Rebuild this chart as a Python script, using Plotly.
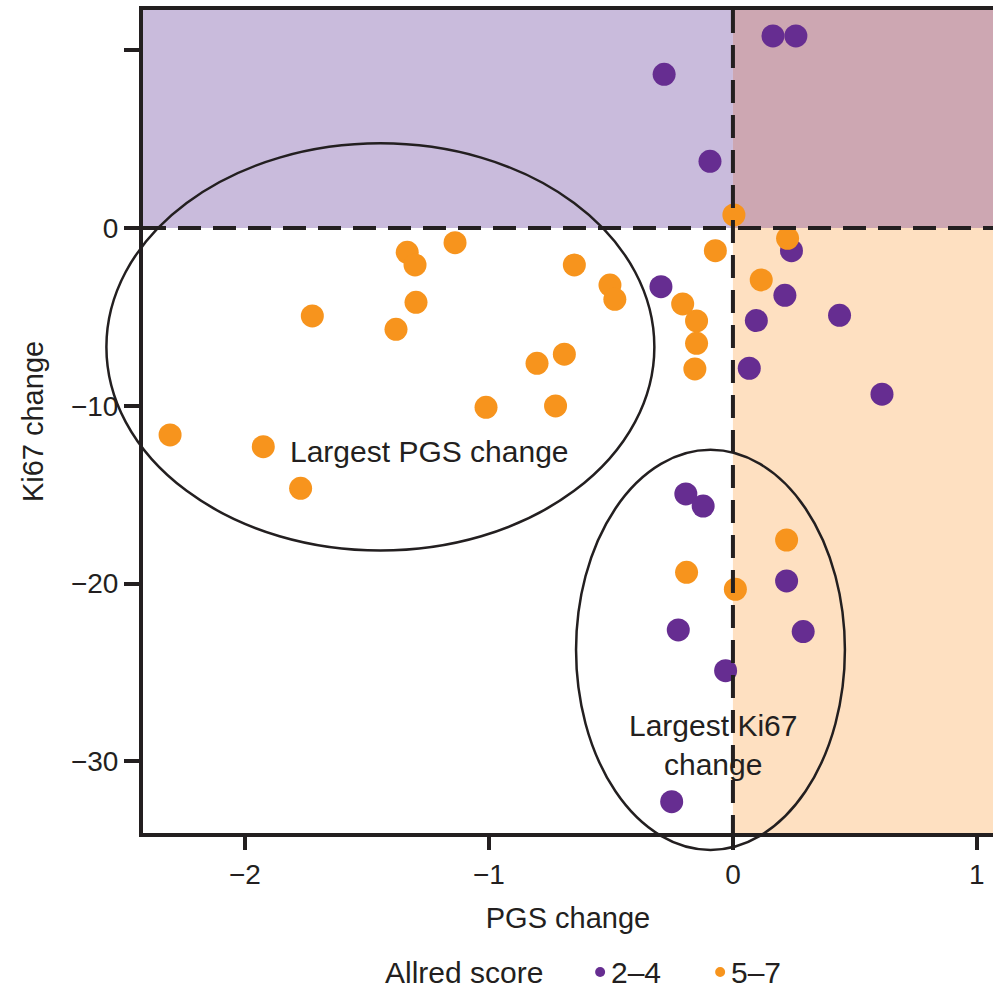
import plotly.graph_objects as go

# Allred score 2-4
purple_x = [0.164, 0.258, -0.282, -0.094, 0.240, -0.295, 0.213, 0.096, 0.437,
            0.067, 0.611, -0.193, -0.122, 0.220, -0.224, 0.288, -0.030, -0.251]
purple_y = [10.80, 10.80, 8.64, 3.75, -1.28, -3.30, -3.79, -5.21, -4.91,
            -7.89, -9.35, -14.96, -15.64, -19.85, -22.61, -22.70, -24.90, -32.27]

# Allred score 5-7
orange_x = [-2.307, -1.925, -1.772, -1.724, -1.335, -1.303, -1.299, -1.381, -1.139,
            -1.012, -0.650, -0.504, -0.484, -0.691, -0.803, -0.727, -0.206, -0.149,
            -0.149, -0.156, -0.072, 0.004, 0.224, 0.116, 0.220, -0.190, 0.010]
orange_y = [-11.64, -12.30, -14.64, -4.95, -1.37, -2.08, -4.18, -5.70, -0.83,
            -10.09, -2.08, -3.21, -4.01, -7.10, -7.61, -10.01, -4.27, -5.23,
            -6.49, -7.93, -1.28, 0.73, -0.58, -2.92, -17.55, -19.37, -20.32]

legend_title = "Allred score"
group_names = ["2\u20134", "5\u20137"]

x_tickvals = [-2, -1, 0, 1]
x_ticktext = ["\u22122", "\u22121", "0", "1"]
y_tickvals = [-30, -20, -10, 0, 10]
y_ticktext = ["\u221230", "\u221220", "\u221210", "0", ""]

X_RANGE = [-2.418, 1.066]
Y_RANGE = [-34.03, 12.26]

# highlighted groups: (x centre, y centre, x radius, y radius)
pgs_ellipse = (-1.445, -6.69, 1.123, 11.45)
ki67_ellipse = (-0.092, -23.73, 0.551, 11.25)

PURPLE = "#662d91"
ORANGE = "#f7941d"
INK = "#231f20"
FONT = "Liberation Sans, Arial, sans-serif"


def dom_x(v):
    return (v - X_RANGE[0]) / (X_RANGE[1] - X_RANGE[0])


def dom_y(v):
    return (v - Y_RANGE[0]) / (Y_RANGE[1] - Y_RANGE[0])


def ellipse_shape(e):
    cx, cy, rx, ry = e
    return dict(type="circle", xref="x domain", yref="y domain",
                x0=dom_x(cx - rx), x1=dom_x(cx + rx),
                y0=dom_y(cy - ry), y1=dom_y(cy + ry),
                line=dict(color=INK, width=2.5), layer="above")


fig = go.Figure()

fig.add_trace(go.Scatter(x=purple_x, y=purple_y, mode="markers", name=group_names[0],
                         showlegend=False,
                         marker=dict(color=PURPLE, size=23, line=dict(width=0))))
fig.add_trace(go.Scatter(x=orange_x, y=orange_y, mode="markers", name=group_names[1],
                         showlegend=False,
                         marker=dict(color=ORANGE, size=23, line=dict(width=0))))

shapes = [
    # quadrant shading
    dict(type="rect", xref="x", yref="y", x0=X_RANGE[0], x1=0, y0=0, y1=Y_RANGE[1],
         fillcolor="#c9bbdc", line=dict(width=0), layer="below"),
    dict(type="rect", xref="x", yref="y", x0=0, x1=X_RANGE[1], y0=0, y1=Y_RANGE[1],
         fillcolor="#cda7b2", line=dict(width=0), layer="below"),
    dict(type="rect", xref="x", yref="y", x0=0, x1=X_RANGE[1], y0=Y_RANGE[0], y1=0,
         fillcolor="#fee0c1", line=dict(width=0), layer="below"),
    # zero reference lines
    dict(type="line", xref="x", yref="y", x0=X_RANGE[0], x1=X_RANGE[1], y0=0, y1=0,
         line=dict(color=INK, width=4, dash="23px,12px"), layer="above"),
    dict(type="line", xref="x", yref="y", x0=0, x1=0, y0=Y_RANGE[1], y1=Y_RANGE[0],
         line=dict(color=INK, width=4, dash="23px,12px"), layer="above"),
    ellipse_shape(pgs_ellipse),
    ellipse_shape(ki67_ellipse),
]

annotations = [
    dict(x=-1.242, y=-12.6, xref="x", yref="y", text="Largest PGS change",
         showarrow=False, font=dict(family=FONT, size=30, color=INK)),
    dict(x=-0.082, y=-29.1, xref="x", yref="y", text="Largest Ki67<br>change",
         showarrow=False, font=dict(family=FONT, size=30, color=INK)),
]

# legend row below the axis title (paper coordinates)
LEG_Y = -0.170
LEG_FONT = dict(family=FONT, size=30, color=INK)
annotations.append(dict(x=0.2824, y=LEG_Y, xref="paper", yref="paper", text=legend_title,
                        xanchor="left", yanchor="middle", showarrow=False, font=LEG_FONT))
legend_dot_x = [0.5378, 0.6790]
for name, col, dx in zip(group_names, [PURPLE, ORANGE], legend_dot_x):
    r_x = 5 / 850
    r_y = 5 / 823
    shapes.append(dict(type="circle", xref="paper", yref="paper",
                       x0=dx - r_x, x1=dx + r_x, y0=LEG_Y - r_y + 0.001, y1=LEG_Y + r_y + 0.001,
                       fillcolor=col, line=dict(width=0)))
    annotations.append(dict(x=dx + 0.010, y=LEG_Y, xref="paper", yref="paper", text=name,
                            xanchor="left", yanchor="middle", showarrow=False, font=LEG_FONT))

fig.update_layout(
    width=993, height=989,
    margin=dict(l=143, r=0, t=10, b=156, autoexpand=False),
    paper_bgcolor="white", plot_bgcolor="white",
    font=dict(family=FONT, size=27, color=INK),
    shapes=shapes, annotations=annotations,
    showlegend=False,
    xaxis=dict(range=X_RANGE, tickvals=x_tickvals, ticktext=x_ticktext,
               showgrid=False, zeroline=False, showline=True, mirror=True,
               linecolor=INK, linewidth=4, ticks="outside", ticklen=13,
               tickwidth=4, tickcolor=INK,
               tickfont=dict(family=FONT, size=28, color=INK),
               title=dict(text="PGS change", standoff=20,
                          font=dict(family=FONT, size=29, color=INK))),
    yaxis=dict(range=Y_RANGE, tickvals=y_tickvals, ticktext=y_ticktext,
               showgrid=False, zeroline=False, showline=True, mirror=False,
               linecolor=INK, linewidth=4, ticks="outside", ticklen=15,
               tickwidth=4, tickcolor=INK,
               tickfont=dict(family=FONT, size=28, color=INK),
               title=dict(text="Ki67 change", standoff=20,
                          font=dict(family=FONT, size=29, color=INK))),
)

fig.write_html("out.html")
